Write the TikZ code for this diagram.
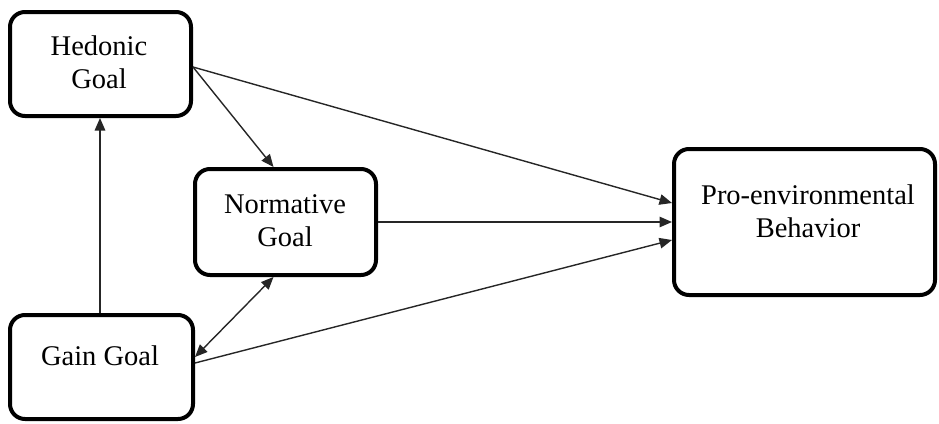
\documentclass[tikz,border=0pt]{standalone}
\usepackage{fontspec}
\setmainfont{LiberationSerif}[Extension=.ttf, UprightFont=*-Regular, BoldFont=*-Bold]
\usetikzlibrary{arrows.meta}
\begin{document}
\begin{tikzpicture}[x=1pt,y=-1pt,
  goalbox/.style={draw=black, line width=4pt, rounded corners=15pt, inner sep=0pt},
  goaltext/.style={font=\fontsize{28.5pt}{33pt}\selectfont, align=center, inner sep=0pt},
  conn/.style={draw=black!85, line width=1.4pt, -{Triangle[length=12.5pt,width=10.5pt]}},
  bothconn/.style={draw=black!85, line width=1.4pt, {Triangle[length=12.5pt,width=10.5pt]}-{Triangle[length=12.5pt,width=10.5pt]}}]
\useasboundingbox (0,0) rectangle (939,423);
% boxes
\node[goalbox, minimum width=181pt, minimum height=104pt] (hed) at (100.5,64) {};
\node[goalbox, minimum width=181pt, minimum height=106pt] (nor) at (285.5,222) {};
\node[goalbox, minimum width=261pt, minimum height=146pt] (pro) at (804.5,222) {};
\node[goalbox, minimum width=183pt, minimum height=104pt] (gain) at (101.5,367) {};
% texts
\node[goaltext] (hedt) at (99,62) {Hedonic\\Goal};
\node[goaltext] (nort) at (285,220.5) {Normative\\Goal};
\node[goaltext] (prot) at (808,211.5) {Pro-environmental\\Behavior};
\node[goaltext] (gaint) at (100,355.5) {Gain Goal};
% connectors
\draw[conn] (gain.north -| 100,0) -- (hed.south -| 100,0);
\draw[conn] ([yshift=-3pt]hed.east) -- ([xshift=-12pt]nor.north);
\draw[conn] ([yshift=-3pt]hed.east) -- ([yshift=19pt]pro.west);
\draw[conn] (nor.east) -- (nor.east -| pro.west);
\draw[conn] ([yshift=4pt]gain.east) -- ([yshift=-18pt]pro.west);
\draw[bothconn] ([yshift=10pt]gain.east) -- ([xshift=-12pt]nor.south);
\end{tikzpicture}
\end{document}
